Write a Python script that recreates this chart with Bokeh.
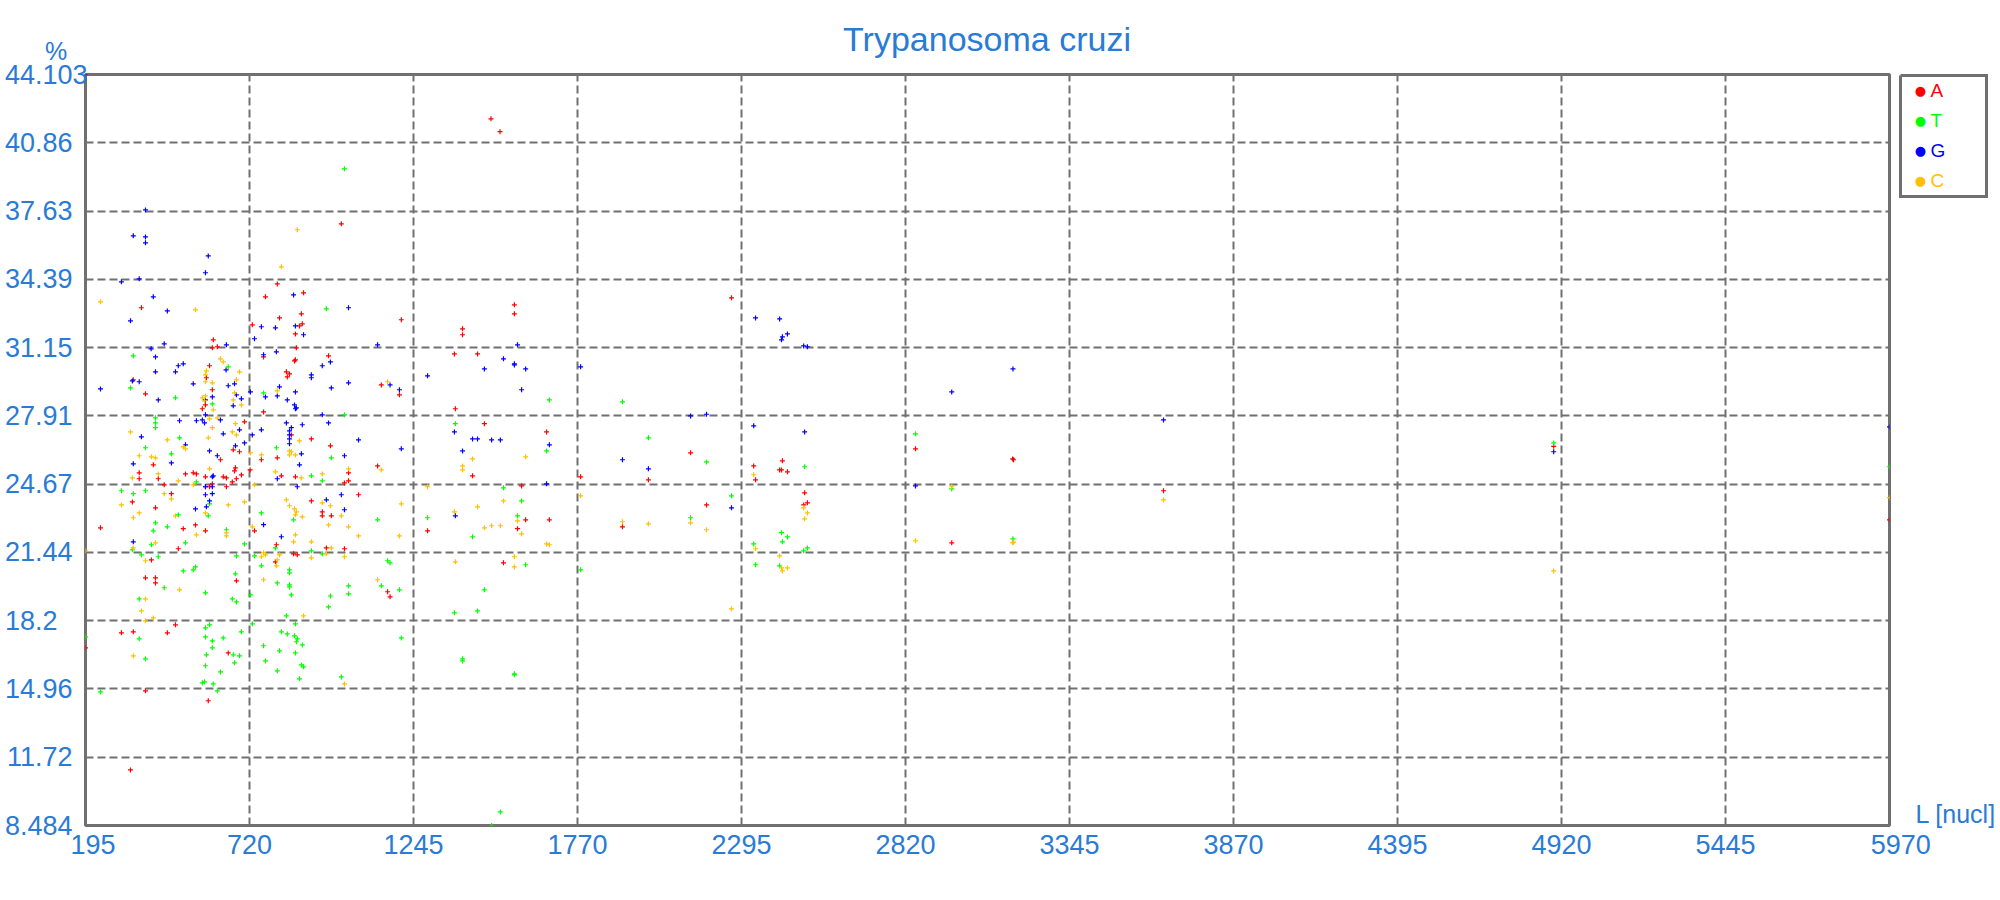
from bokeh.plotting import figure
from bokeh.models import Range1d, FixedTicker
from bokeh.core.properties import value
from bokeh.embed import file_html
from bokeh.resources import INLINE

# ---------------- data (length in nucleotides, percentage) ----------------
A_L = [1493, 1522,
       1014, 809, 771, 893, 374, 816, 886, 729, 880, 889, 867, 604, 601, 617, 870, 973, 765, 592, 867, 864, 838, 848,
       841, 348, 582, 387, 1142, 601, 579, 569, 765, 704, 854, 918, 979, 668, 688, 627, 758, 809, 412, 1130, 367, 367,
       428, 515, 540, 550, 579, 636, 646, 675, 672, 694, 722, 822, 867, 1037, 1037, 1024, 678, 665,
       601, 447, 579, 592, 646, 470, 345, 419, 243, 508, 547, 579, 492, 406, 387, 419, 419, 918, 1069, 953, 953, 982,
       736, 806, 966, 1024, 861, 873, 803, 1162, 678, 310, 348, 457, 483, 652, 387, 588, 339, 195,
       1568, 1568, 1206, 1402, 1402, 1376, 1450, 1200, 1379, 1472, 1671, 1434, 1780, 1997, 2132,
       1591, 1604, 1680, 1290, 1578, 1533, 1170, 1914,
       2263, 2334, 2426, 2417, 2423, 2442, 2340, 2852, 3163, 3166, 2497, 2506, 2494, 2183, 3646, 2968,
       4895, 5970]
A_pct = [42.00, 41.39,
         37.02, 34.17, 33.56, 33.75, 33.04, 32.56, 32.75, 32.23, 32.18, 32.28, 31.80, 31.52, 31.14, 31.19, 31.14, 30.76,
         30.71, 30.29, 30.57, 30.52, 30.00, 29.90, 29.76, 29.62, 29.72, 28.96, 29.38, 29.15, 28.43, 28.25, 28.10, 27.63,
         27.01, 26.82, 26.49, 26.30, 26.21, 25.83, 25.83, 25.92, 25.59, 25.54, 25.21, 24.93, 24.93, 25.16, 25.21, 25.16,
         25.02, 25.02, 24.97, 25.45, 25.30, 25.11, 25.35, 25.07, 25.02, 25.21, 24.83, 24.73, 24.93, 24.78,
         24.69, 24.64, 24.55, 24.55, 24.55, 24.22, 23.83, 23.55, 22.60, 22.56, 22.74, 22.46, 21.61, 21.08, 20.23, 20.23,
         19.99, 23.88, 24.17, 23.36, 23.17, 23.17, 22.46, 21.80, 21.65, 21.61, 21.37, 21.32, 20.99, 19.57, 20.09, 17.62,
         17.67, 17.62, 18.00, 16.67, 14.87, 14.40, 11.12, 16.91,
         33.18, 32.75, 32.47, 32.04, 31.76, 30.85, 30.85, 28.91, 28.25, 27.54, 27.15, 25.07, 25.02, 24.88, 26.16,
         24.59, 22.98, 22.98, 22.46, 22.56, 20.94, 19.33, 22.65,
         33.51, 25.54, 25.78, 25.35, 25.35, 25.26, 24.88, 26.35, 25.87, 25.83, 24.26, 23.79, 23.69, 23.69, 24.36, 21.89,
         26.47, 22.98]

T_L = [1024, 966, 348, 652, 339, 483, 765, 601, 419, 419, 419, 1024, 496, 387, 806, 470, 982, 918, 953, 550,
       310, 348, 387, 592, 588, 492, 419, 457, 412, 646, 515, 406, 345, 704, 374, 428, 678, 736, 758, 861,
       1130, 803, 918, 953, 758, 848, 848, 508, 540, 547, 675, 447, 579, 809, 848, 848, 854, 1037, 1037, 979,
       973, 1142, 1162, 367, 665, 678, 723, 838, 867, 592, 579, 729, 694, 822, 841, 864, 873, 870, 889, 579,
       601, 636, 601, 367, 765, 816, 867, 668, 688, 582, 387, 771, 579, 672, 886, 893, 627, 809, 880, 1014,
       569, 576, 604, 617, 243, 195,
       1680, 1914, 1379, 1671, 1997,
       1533, 1591, 1290, 1578, 1434, 1604, 1170, 1200, 1472, 1376, 1450, 1206, 1402, 1402, 1568, 1568, 1780, 2132,
       1523, 1495,
       2183, 2263, 2497, 2852, 2968, 2423, 2442, 2426, 2334, 2506, 2494, 2340, 2417, 3164,
       4895, 5970]
T_pct = [39.63, 32.99, 30.76, 30.24, 29.24, 28.77, 29.00, 28.48, 27.82, 27.58, 27.35, 27.96, 26.87, 26.40, 26.40,
         26.11, 25.92, 25.07, 24.83, 24.78,
         24.36, 24.22, 24.36, 23.74, 23.17, 23.22, 22.84, 22.65, 22.46, 22.51, 21.89, 21.80, 21.56, 21.84, 21.32,
         21.23, 21.27, 21.27, 23.31, 22.98, 22.98, 21.65, 21.51, 21.37, 20.80, 20.61, 20.47, 20.56, 20.61, 20.75,
         20.42, 19.76, 19.52, 19.99, 19.90, 19.80, 19.42, 19.85, 19.47, 19.37, 18.85, 19.85, 21.04, 19.23, 19.23,
         19.09, 19.42, 18.43, 18.05, 18.00, 17.86, 18.05, 17.67, 17.67, 17.57, 17.48, 17.34, 17.20, 17.05, 17.43,
         17.24, 17.38, 16.91, 17.34, 17.01, 16.77, 16.67, 16.58, 16.53, 16.58, 16.39, 16.29, 16.06, 16.20, 16.10,
         16.01, 15.77, 15.82, 15.44, 15.53, 15.25, 15.30, 15.20, 14.87, 14.82, 17.43,
         28.67, 28.58, 27.54, 26.25, 26.87,
         24.50, 23.88, 23.08, 23.17, 22.18, 20.85, 20.94, 19.66, 19.66, 18.57, 18.66, 17.38, 16.39, 16.29, 15.68,
         15.63, 20.61, 23.08, 9.13, 8.484,
         25.73, 24.12, 25.50, 27.06, 24.45, 22.37, 22.17, 21.94, 21.84, 21.65, 21.51, 20.85, 20.80, 22.08,
         26.63, 25.50]

G_L = [195,
       387, 348, 387, 387, 588, 579, 310, 367, 412, 861, 457, 339, 1037, 758, 803, 867, 893, 736, 447, 646,
       405, 1130, 419, 765, 806, 492, 508, 979, 953, 645, 419, 483, 918, 918, 345, 367, 243, 540, 672, 652,
       1037, 982, 816, 723, 867, 771, 809, 601, 678, 694, 579, 428, 668, 841, 864, 870, 867, 579, 953, 496,
       550, 569, 576, 627, 838, 854, 889, 973, 758, 688, 729, 636, 848, 848, 848, 848, 374, 1069, 515, 675,
       704, 592, 617, 886, 1024, 348, 470, 880, 604, 601, 809,
       579, 601, 579, 601, 592, 582, 547, 873, 966, 1014, 1024, 765, 822, 348,
       1578, 1533, 1568, 1568, 1472, 1604, 1290, 1170, 1200, 1591, 1780, 1376, 1206, 1402, 1434, 1450, 1495, 1523,
       1680, 1914, 1997, 2132, 1671, 1379,
       2183, 2340, 2417, 2442, 2426, 2423, 2494, 2506, 3164, 2968, 2334, 2497, 3646, 2852, 2263,
       4895, 5970]
G_pct = [44.103,
         37.68, 36.45, 36.40, 36.12, 35.50, 34.70, 34.27, 34.41, 33.56, 33.65, 32.89, 32.42, 33.04, 32.14, 32.09,
         32.18, 31.76, 31.57, 31.33, 31.28, 31.09, 31.28, 30.71, 30.81, 30.95, 30.29, 30.38, 30.47, 30.29, 30.09,
         30.00, 30.00, 29.86, 29.72, 29.57, 29.53, 29.19, 29.43, 29.43, 29.34, 29.48, 29.24, 29.29, 29.05, 29.05,
         28.81, 28.86, 28.81, 28.91, 28.72, 28.67, 28.67, 28.39, 28.67, 28.43, 28.29, 28.25, 27.96, 27.96, 27.68,
         27.68, 27.72, 27.58, 27.72, 27.58, 27.35, 27.49, 27.58, 27.25, 27.25, 27.01, 27.06, 27.20, 27.01, 26.82,
         26.59, 26.92, 26.77, 26.54, 26.49, 26.63, 26.25, 26.02, 26.11, 26.02, 25.64, 25.68, 25.59, 25.07, 25.02,
         24.93,
         24.55, 24.55, 24.17, 24.22, 23.88, 23.60, 23.50, 24.55, 23.93, 24.17, 23.46, 22.75, 22.18, 21.94,
         31.28, 30.62, 30.38, 30.33, 30.14, 30.14, 29.81, 29.38, 29.15, 29.15, 30.24, 27.15, 26.35, 26.25, 26.82,
         26.82, 26.77, 26.77, 26.54, 25.83, 25.40, 27.91, 24.69, 23.17,
         27.99, 32.56, 32.51, 31.80, 31.66, 31.52, 31.23, 31.19, 30.14, 29.05, 27.44, 27.15, 27.72, 24.59, 23.55,
         26.21, 27.39]

C_L = [873, 822, 243, 547, 627, 636, 582, 579, 688, 579, 678, 601, 1162, 809, 672, 569, 579, 576, 668, 694,
       604, 592, 617, 339, 675, 665, 678, 601, 588, 457, 508, 515, 880, 723, 758, 848, 854, 848, 867, 367,
       406, 419, 592, 1037, 1142, 803, 953, 428, 345, 492, 886,
       540, 736, 447, 470, 310, 367, 348, 579, 483, 652, 704, 550, 646, 646, 419, 348, 195, 387, 496, 387,
       374, 412, 387, 348, 729, 838, 848, 864, 870, 867, 889, 953, 979, 1014, 973, 1037, 1069, 867, 861, 918,
       982, 966, 918, 1024, 816, 765, 771, 758, 809, 806, 765, 1130, 893, 1024,
       1604, 1434, 1402, 1402,
       1290, 1206, 1376, 1450, 1533, 1578, 1472, 1495, 1523, 1591, 1200, 1671, 1680, 1379, 1568, 1568, 1780, 1914,
       1997, 2132,
       2183, 2334, 2494, 2506, 2497, 2340, 2417, 2423, 2426, 2442, 2968, 2852, 3163, 3166, 2263, 3646,
       4895, 5970]
C_pct = [36.74, 34.98, 33.32, 32.94, 30.62, 30.47, 30.05, 29.86, 30.00, 29.53, 29.62, 29.48, 29.53, 29.10, 29.00,
         28.77, 28.86, 28.62, 28.67, 28.43, 28.20, 27.77, 27.82, 27.15, 27.54, 27.15, 27.01, 27.35, 26.87, 26.77,
         26.44, 26.35, 26.73, 26.16, 26.06, 26.25, 26.21, 26.06, 26.06, 26.02, 25.97, 25.92, 25.40, 25.40, 25.35,
         25.26, 25.16, 25.16, 24.97, 24.83, 24.97,
         24.64, 24.64, 24.22, 23.98, 23.69, 23.31, 23.08, 23.31, 23.17, 23.69, 23.83, 22.27, 22.36, 22.22, 21.89,
         21.65, 21.51, 21.04, 19.66, 19.23, 18.66, 18.33, 18.19, 16.53, 22.65, 23.93, 23.65, 23.50, 23.36, 23.22,
         23.12, 23.79, 23.65, 23.17, 22.74, 22.65, 22.22, 22.27, 21.94, 21.94, 21.65, 21.37, 21.18, 21.23, 21.32,
         21.42, 21.32, 21.23, 21.08, 20.80, 20.14, 20.14, 18.43, 15.20,
         25.97, 25.87, 25.54, 25.35,
         24.55, 23.74, 23.36, 23.60, 23.88, 22.93, 22.60, 22.70, 22.70, 22.32, 22.22, 21.84, 21.80, 20.99, 21.23,
         20.75, 24.12, 22.89, 22.79, 22.84,
         22.51, 25.12, 23.55, 23.31, 23.03, 21.61, 21.27, 20.70, 20.56, 20.70, 24.55, 21.99, 21.89, 21.92, 18.76,
         23.93,
         20.56, 24.03]

series_names = ["A", "T", "G", "C"]
series_colors = ["#ff0000", "#00ff00", "#0000ff", "#ffc000"]

x_ticks = [195, 720, 1245, 1770, 2295, 2820, 3345, 3870, 4395, 4920, 5445, 5970]
y_ticks = [8.484, 11.722, 14.96, 18.198, 21.436, 24.675, 27.913, 31.151, 34.389, 37.627, 40.865, 44.103]
y_tick_labels = ["8.484", "11.72", "14.96", "18.2", "21.44", "24.67", "27.91", "31.15",
                 "34.39", "37.63", "40.86", "44.103"]

title_text = "Trypanosoma cruzi"
y_unit = "%"
x_unit = "L [nucl]"

for a, b in [(A_L, A_pct), (T_L, T_pct), (G_L, G_pct), (C_L, C_pct)]:
    assert len(a) == len(b)

# ---------------- styling ----------------
BLUE_TXT = "#2a7bd5"
GRAY = "#707070"
FONT = "Liberation Sans"

p = figure(width=1998, height=880,
           x_range=Range1d(195, 5970), y_range=Range1d(8.484, 44.103),
           output_backend="svg", toolbar_location=None,
           min_border_left=85, min_border_right=109, min_border_top=74, min_border_bottom=55)
p.background_fill_color = "white"
p.border_fill_color = "white"
p.outline_line_color = GRAY
p.outline_line_width = 3

p.xaxis.ticker = FixedTicker(ticks=x_ticks)
p.yaxis.ticker = FixedTicker(ticks=y_ticks)


def pad(s):
    # right-pad with figure spaces so that every label has the width of "44.103"
    n = sum(ch.isdigit() for ch in s)
    return s + "\u2007" * (5 - n)


p.yaxis.major_label_overrides = {t: pad(l) for t, l in zip(y_ticks, y_tick_labels)}
# the two end labels of the x axis sit slightly to the right of their tick
p.xaxis.major_label_overrides = {x_ticks[0]: "\u2007" + str(x_ticks[0]),
                                 x_ticks[-1]: "\u2007\u2008" + str(x_ticks[-1])}

for ax in (p.xaxis[0], p.yaxis[0]):
    ax.axis_line_color = None
    ax.major_tick_line_color = None
    ax.minor_tick_line_color = None
    ax.major_tick_out = 0
    ax.major_tick_in = 0
    ax.major_label_text_font = FONT
    ax.major_label_text_font_size = "27px"
    ax.major_label_text_color = BLUE_TXT
p.yaxis.major_label_standoff = -2
p.xaxis.major_label_standoff = 4

p.xgrid.ticker = FixedTicker(ticks=x_ticks[1:-1])
p.ygrid.ticker = FixedTicker(ticks=y_ticks[1:-1])
p.grid.grid_line_color = GRAY
p.grid.grid_line_width = 2
p.grid.grid_line_dash = "8 4"

for (xs, ys), col in zip([(A_L, A_pct), (T_L, T_pct), (G_L, G_pct), (C_L, C_pct)], series_colors):
    p.scatter(xs, ys, marker="cross", size=5, line_color=col, line_width=1.2)

# ---- texts outside the frame: drawn as overlay-level glyphs (not clipped) ----
p.text(x=[3081], y=[45.787], text=[title_text], text_align="center", text_baseline="middle",
       text_font=value(FONT), text_font_size="34px", text_color=BLUE_TXT, level="overlay")
p.text(x=[100.6], y=[45.194], text=[y_unit], text_align="center", text_baseline="middle",
       text_font=value(FONT), text_font_size="25px", text_color=BLUE_TXT, level="overlay")
p.text(x=[6053], y=[9.03], text=[x_unit], text_align="left", text_baseline="middle",
       text_font=value(FONT), text_font_size="25px", text_color=BLUE_TXT, level="overlay")

# ---- legend ----
lg_l, lg_r, lg_t, lg_b = 6005.2, 6280.5, 44.056, 38.317
p.line(x=[lg_l, lg_r, lg_r, lg_l, lg_l], y=[lg_t, lg_t, lg_b, lg_b, lg_t],
       line_color=GRAY, line_width=3, line_join="miter", level="overlay")
row_y = [43.344, 41.921, 40.498, 39.076]
p.text(x=[6069.2] * 4, y=row_y, text=["\u25cf"] * 4, text_align="center", text_baseline="middle",
       text_font=value("DejaVu Sans"), text_font_size="13px", text_color=series_colors, level="overlay")
p.text(x=[6101.2] * 4, y=row_y, text=series_names, text_align="left", text_baseline="middle",
       text_font=value(FONT), text_font_size="19px", text_color=series_colors, level="overlay")

open("out.html", "w").write(file_html(p, INLINE))
